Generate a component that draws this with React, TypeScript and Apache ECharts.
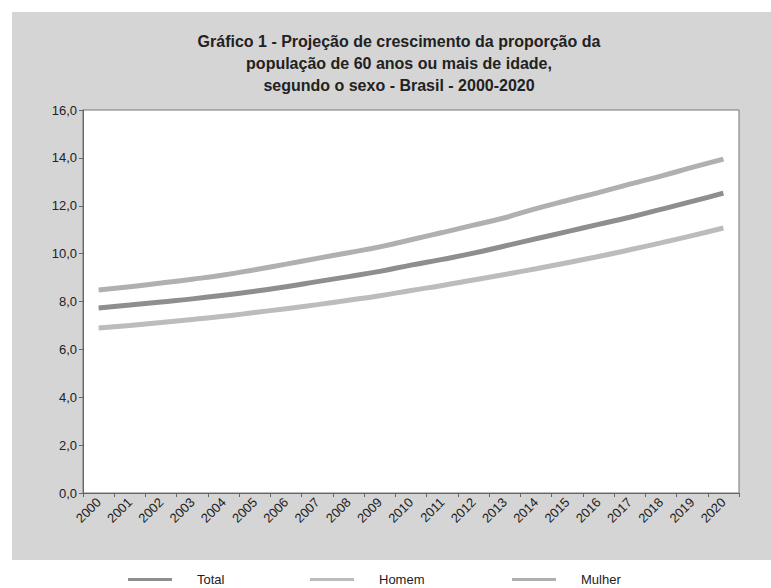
import React, { useEffect, useRef } from "react";
import * as echarts from "echarts";

const years = [
  "2000", "2001", "2002", "2003", "2004", "2005", "2006", "2007", "2008", "2009", "2010",
  "2011", "2012", "2013", "2014", "2015", "2016", "2017", "2018", "2019", "2020",
];
const total = [
  7.73, 7.85, 7.98, 8.11, 8.26, 8.43, 8.62, 8.83, 9.04, 9.26, 9.52,
  9.76, 10.02, 10.32, 10.62, 10.92, 11.22, 11.52, 11.85, 12.18, 12.53,
];
const homem = [
  6.89, 7.0, 7.12, 7.25, 7.38, 7.54, 7.7, 7.87, 8.05, 8.24, 8.46,
  8.67, 8.9, 9.13, 9.37, 9.62, 9.88, 10.16, 10.45, 10.75, 11.07,
];
const mulher = [
  8.48, 8.62, 8.77, 8.93, 9.11, 9.33, 9.56, 9.8, 10.04, 10.28, 10.58,
  10.88, 11.19, 11.5, 11.88, 12.22, 12.55, 12.9, 13.24, 13.6, 13.95,
];
const titleLines = [
  "Gráfico 1 - Projeção de crescimento da proporção da",
  "população de 60 anos ou mais de idade,",
  "segundo o sexo - Brasil - 2000-2020",
];

const FONT = "'Liberation Sans', Arial, sans-serif";

export default function App() {
  const ref = useRef<HTMLDivElement>(null);
  useEffect(() => {
    if (!ref.current) return;
    const chart = echarts.init(ref.current, null, { renderer: "svg" });
    const legendCommon = {
      top: 568,
      itemWidth: 44,
      itemHeight: 3,
      icon: "rect",
      textStyle: { fontFamily: FONT, fontSize: 13, color: "#222", padding: [0, 0, 0, 20] },
    };
    chart.setOption({
      animation: false,
      backgroundColor: "#ffffff",
      graphic: [
        {
          type: "rect",
          z: -10,
          shape: { x: 12, y: 12, width: 759, height: 548 },
          style: { fill: "#d5d5d5" },
        },
      ],
      title: {
        text: titleLines.join("\n"),
        left: 394,
        textAlign: "center",
        top: 25,
        textStyle: {
          fontFamily: FONT,
          fontSize: 16,
          fontWeight: "bold",
          lineHeight: 22,
          color: "#222",
        },
      },
      legend: [
        { ...legendCommon, left: 123, data: ["Total"] },
        { ...legendCommon, left: 305, data: ["Homem"] },
        { ...legendCommon, left: 507, data: ["Mulher"] },
      ],
      grid: {
        left: 83,
        right: 32,
        top: 110,
        bottom: 95,
        show: true,
        backgroundColor: "#ffffff",
        borderColor: "#777",
        borderWidth: 1,
      },
      xAxis: {
        type: "category",
        data: years,
        boundaryGap: true,
        axisLine: { lineStyle: { color: "#666" } },
        axisTick: { show: true, length: 4, lineStyle: { color: "#666" } },
        axisLabel: {
          rotate: 45,
          interval: 0,
          margin: 7,
          fontFamily: FONT,
          fontSize: 13,
          color: "#222",
        },
      },
      yAxis: {
        type: "value",
        min: 0,
        max: 16,
        interval: 2,
        splitLine: { show: false },
        axisLine: { show: true, lineStyle: { color: "#666" } },
        axisTick: { show: true, length: 4, lineStyle: { color: "#666" } },
        axisLabel: {
          margin: 6,
          fontFamily: FONT,
          fontSize: 13,
          color: "#222",
          formatter: (v: number) => v.toFixed(1).replace(".", ","),
        },
      },
      series: [
        {
          name: "Total",
          type: "line",
          data: total,
          symbol: "none",
          smooth: true,
          color: "#8e8e8e",
          lineStyle: { width: 5, color: "#8e8e8e" },
        },
        {
          name: "Homem",
          type: "line",
          data: homem,
          symbol: "none",
          smooth: true,
          color: "#bcbcbc",
          lineStyle: { width: 5, color: "#bcbcbc" },
        },
        {
          name: "Mulher",
          type: "line",
          data: mulher,
          symbol: "none",
          smooth: true,
          color: "#b0b0b0",
          lineStyle: { width: 5, color: "#b0b0b0" },
        },
      ],
    });
    return () => chart.dispose();
  }, []);
  return (
    <div
      ref={ref}
      style={{ position: "fixed", left: 0, top: 0, width: 771, height: 588 }}
    />
  );
}
